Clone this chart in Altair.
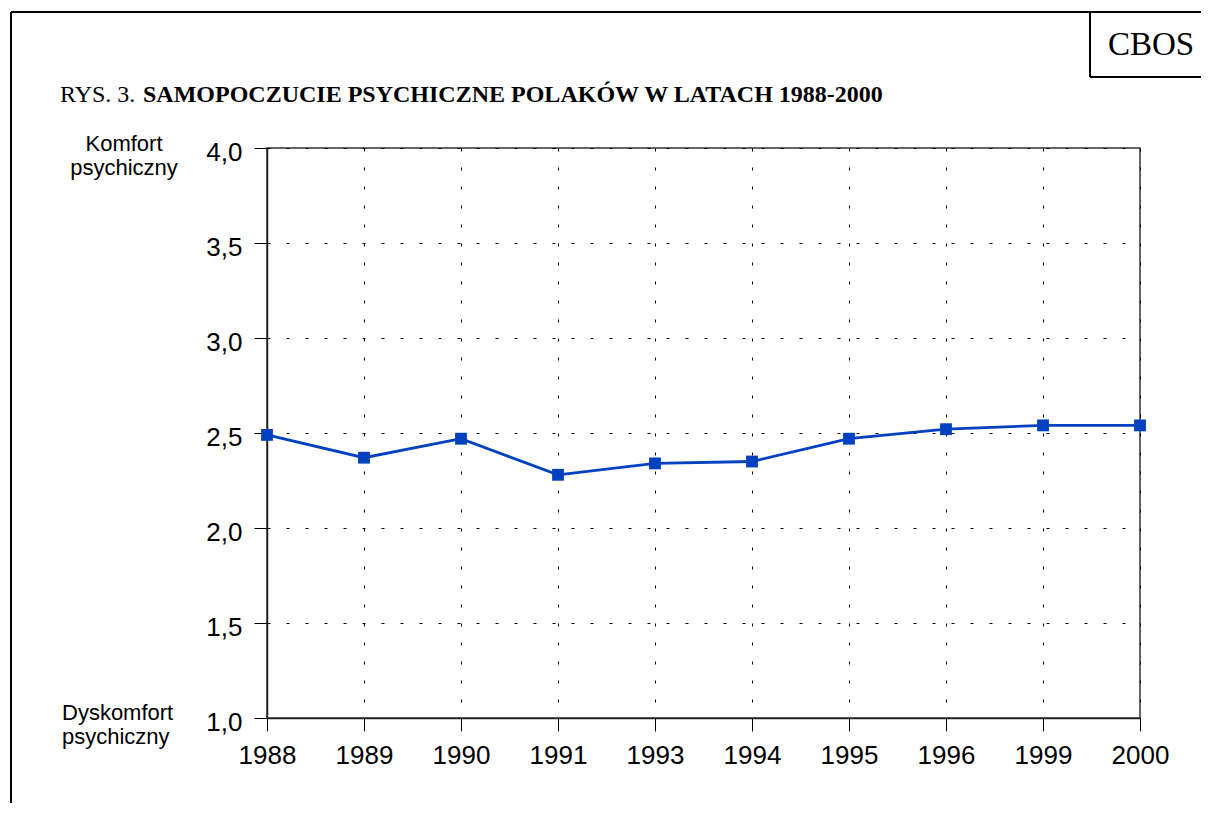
import altair as alt
import pandas as pd

# ---- data ----
years = ["1988", "1989", "1990", "1991", "1993", "1994", "1995", "1996", "1999", "2000"]
values = [2.49, 2.37, 2.47, 2.28, 2.34, 2.35, 2.47, 2.52, 2.54, 2.54]
y_ticks = [1.0, 1.5, 2.0, 2.5, 3.0, 3.5, 4.0]

title_prefix = "RYS. 3. "
title_main = "SAMOPOCZUCIE PSYCHICZNE POLAKÓW W LATACH 1988-2000"
top_label = ["Komfort", "psychiczny"]
bottom_label = ["Dyskomfort", "psychiczny"]
brand = "CBOS"

df = pd.DataFrame({"rok": years, "wartosc": values})

W, H = 873, 570
BLUE = "#0041C0"
one = alt.Data(values=[{}])

x_enc = alt.X("rok:O", sort=years,
              scale=alt.Scale(type="point", padding=0),
              axis=alt.Axis(title=None, labelAngle=0, grid=True))
y_enc = alt.Y("wartosc:Q", scale=alt.Scale(domain=[1, 4], nice=False, zero=False),
              axis=alt.Axis(title=None, values=y_ticks, grid=True,
                            labelExpr="replace(format(datum.value, '.1f'), '.', ',')"))

line = alt.Chart(df).mark_line(color=BLUE, strokeWidth=2.8).encode(x=x_enc, y=y_enc)
pts = alt.Chart(df).mark_point(shape="square", filled=True, opacity=1,
                               color=BLUE, size=140).encode(x=x_enc, y=y_enc)

def txt(text, x, y, size, font="Liberation Sans", weight="normal", align="left"):
    return alt.Chart(one).mark_text(text=text, font=font, fontSize=size, fontWeight=weight,
                                    align=align, baseline="alphabetic", color="black").encode(
        x=alt.value(x), y=alt.value(y))

def rule(x, y, x2=None, y2=None, w=2):
    enc = dict(x=alt.value(x), y=alt.value(y))
    if x2 is not None:
        enc["x2"] = alt.value(x2)
    if y2 is not None:
        enc["y2"] = alt.value(y2)
    return alt.Chart(one).mark_rule(color="black", strokeWidth=w).encode(**enc)

layers = [
    line, pts,
    # outer frame
    rule(-256, -136, x2=940),
    rule(-256, -136, y2=680),
    # CBOS box
    rule(823, -136, y2=-71),
    rule(823, -71, x2=940),
    txt(brand, 884, -93, 33, font="Liberation Serif", align="center"),
    # title
    txt(title_prefix, -207, -46, 24, font="Liberation Serif"),
    txt(title_main, -124, -46, 24, font="Liberation Serif", weight="bold"),
    # side labels
    txt(top_label[0], -143, 3, 22, align="center"),
    txt(top_label[1], -143, 27, 22, align="center"),
    txt(bottom_label[0], -205, 572, 22),
    txt(bottom_label[1], -205, 596, 22),
]

chart = alt.layer(*layers).properties(
    width=W, height=H,
    autosize=alt.AutoSizeParams(type="none"),
    padding={"left": 259, "top": 140, "right": 61, "bottom": 85},
).configure_view(
    stroke="#333333", strokeWidth=1.5
).configure_axis(
    labelFont="Liberation Sans", labelFontSize=26, labelColor="black",
    domainColor="#222222", domainWidth=1.5,
    tickColor="black", tickSize=13, tickWidth=1,
    gridColor="black", gridDash=[3, 16], gridWidth=1, gridOpacity=1,
).configure_axisX(
    labelPadding=11
).configure_axisY(
    labelPadding=12, labelOffset=4
)

chart.save("out.html", embed_options={"renderer": "svg", "actions": False})
